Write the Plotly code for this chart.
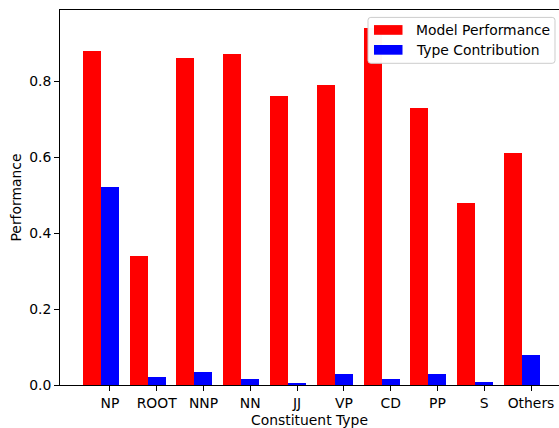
import plotly.graph_objects as go

categories = ["NP", "ROOT", "NNP", "NN", "JJ", "VP", "CD", "PP", "S", "Others"]
model_performance = [0.88, 0.34, 0.86, 0.87, 0.76, 0.79, 0.94, 0.73, 0.48, 0.61]
type_contribution = [0.522, 0.020, 0.033, 0.017, 0.006, 0.030, 0.017, 0.028, 0.009, 0.079]
y_ticks = [0.0, 0.2, 0.4, 0.6, 0.8]

W, H = 559, 428
ML, MR, MT, MB = 60, 0, 10, 43
PW, PH = W - ML - MR, H - MT - MB
FONT = "DejaVu Sans"
FS = 13.9
bw = 0.385
idx = list(range(len(categories)))

fig = go.Figure()
fig.add_trace(go.Bar(x=[i - bw for i in idx], y=model_performance, width=bw,
                     name="Model Performance", marker=dict(color="#ff0000", line=dict(width=0)),
                     showlegend=False))
fig.add_trace(go.Bar(x=idx, y=type_contribution, width=bw,
                     name="Type Contribution", marker=dict(color="#0000ff", line=dict(width=0)),
                     showlegend=False))

def px2x(px):
    return (px - ML) / PW

def py2y(py):
    return (H - MB - py) / PH

# legend box (rounded)
x0, x1, y0, y1, r = 368, 555, 17.4, 63.3, 2.8
path = (f"M {x0+r},{y0} L {x1-r},{y0} Q {x1},{y0} {x1},{y0+r} L {x1},{y1-r} Q {x1},{y1} {x1-r},{y1} "
        f"L {x0+r},{y1} Q {x0},{y1} {x0},{y1-r} L {x0},{y0+r} Q {x0},{y0} {x0+r},{y0} Z")
def conv_path(p):
    out = []
    for tok in p.split(" "):
        if "," in tok:
            a, b = tok.split(",")
            out.append(f"{px2x(float(a)):.5f},{py2y(float(b)):.5f}")
        else:
            out.append(tok)
    return " ".join(out)

shapes = [dict(type="path", xref="paper", yref="paper", path=conv_path(path),
               fillcolor="rgba(255,255,255,0.97)", line=dict(color="#cccccc", width=1), layer="above")]
annotations = []
legend_rows = [("Model Performance", "#ff0000", 25.1, 34.8), ("Type Contribution", "#0000ff", 45.0, 54.7)]
for label, col, ya, yb in legend_rows:
    shapes.append(dict(type="rect", xref="paper", yref="paper", x0=px2x(374), x1=px2x(402.5),
                       y0=py2y(yb), y1=py2y(ya), fillcolor=col, line=dict(width=0), layer="above"))
    annotations.append(dict(text=label, xref="paper", yref="paper", x=px2x(413.5), y=py2y((ya + yb) / 2),
                            xanchor="left", yanchor="middle", showarrow=False,
                            font=dict(family=FONT, size=FS, color="black")))

fig.update_layout(
    width=W, height=H,
    margin=dict(l=ML, r=MR, t=MT, b=MB, pad=0, autoexpand=False),
    paper_bgcolor="white", plot_bgcolor="white",
    font=dict(family=FONT, size=FS, color="black"),
    bargap=0, barmode="overlay",
    shapes=shapes, annotations=annotations,
    showlegend=False,
)
fig.update_xaxes(
    range=[-1.066, 9.598], tickvals=idx, ticktext=categories,
    showline=True, linecolor="black", linewidth=1.1, mirror=True,
    ticks="outside", ticklen=4.9, tickwidth=1.1, tickcolor="black",
    showgrid=False, zeroline=False, automargin=False,
    tickfont=dict(family=FONT, size=FS, color="black"),
    title=dict(text="Constituent Type", font=dict(family=FONT, size=FS, color="black"), standoff=5),
)
fig.update_yaxes(
    range=[0, 0.987], tickvals=y_ticks, tickformat=".1f",
    showline=True, linecolor="black", linewidth=1.1, mirror=False,
    ticks="outside", ticklen=4.9, tickwidth=1.1, tickcolor="black",
    showgrid=False, zeroline=False, automargin=False,
    tickfont=dict(family=FONT, size=FS, color="black"),
    title=dict(text="Performance", font=dict(family=FONT, size=FS, color="black"), standoff=4),
)

fig.write_html("out.html", config={"displayModeBar": False},
               post_script="document.body.style.margin='0';document.body.style.padding='0';")
